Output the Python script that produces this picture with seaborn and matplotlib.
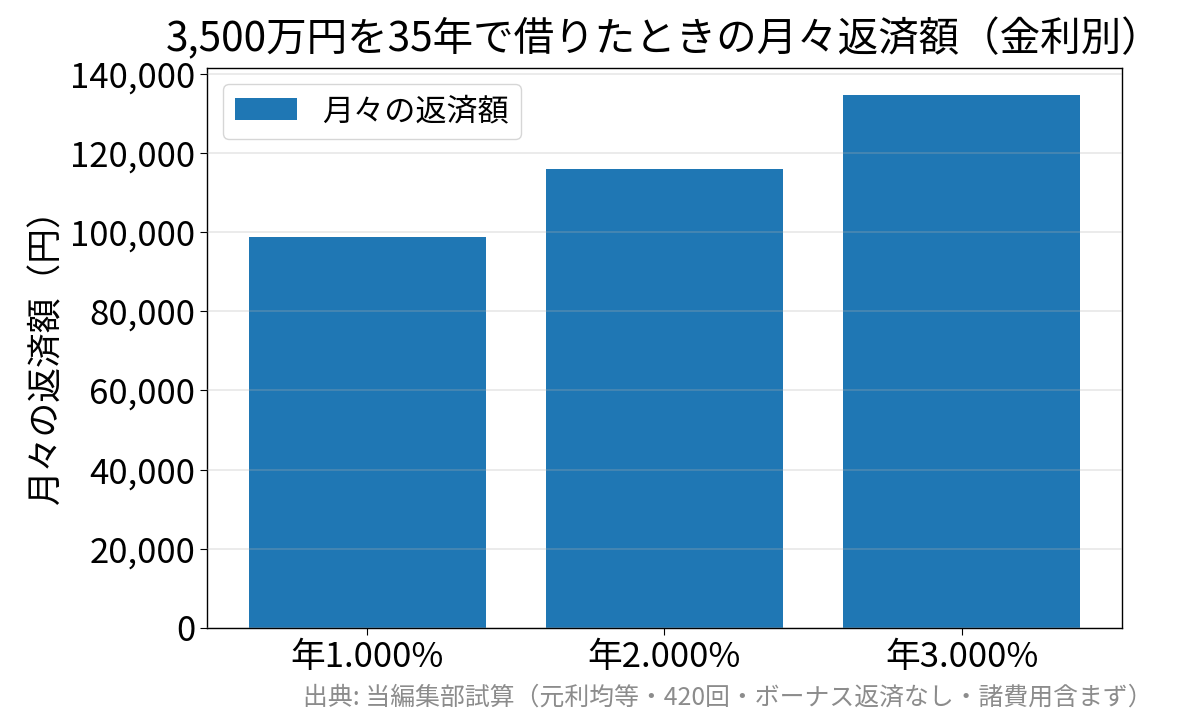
import matplotlib
matplotlib.use("Agg")
import matplotlib.pyplot as plt
import matplotlib.ticker as mticker
import seaborn as sns
import pandas as pd

categories = ["年1.000%", "年2.000%", "年3.000%"]
monthly_payment = [98800, 115944, 134697]
series_label = "月々の返済額"
title = "3,500万円を35年で借りたときの月々返済額（金利別）"
ylabel = "月々の返済額（円）"
source_note = "出典: 当編集部試算（元利均等・420回・ボーナス返済なし・諸費用含まず）"

plt.rcParams['font.family'] = ['Noto Sans CJK JP', 'DejaVu Sans']

df = pd.DataFrame({"rate": categories, "payment": monthly_payment})

fig = plt.figure(figsize=(11.83, 7.25), dpi=100)
ax = fig.add_axes([0.175, 0.1338, 0.7734, 0.7724])

sns.barplot(data=df, x="rate", y="payment", color="#1f77b4", saturation=1,
            width=0.8, label=series_label, ax=ax, zorder=1)

n = len(categories)
ax.set_xlim(-0.54, n - 1 + 0.54)
ax.margins(y=0.05)
ax.autoscale(axis="y")

ax.set_axisbelow(False)
ax.yaxis.grid(True, color="#b0b0b0", alpha=0.3, linewidth=1.2, zorder=2)
ax.xaxis.grid(False)

ax.yaxis.set_major_formatter(mticker.FuncFormatter(lambda v, p: f"{int(v):,}"))
ax.tick_params(axis="both", labelsize=25, length=5)
ax.set_xlabel("")
ax.set_ylabel(ylabel, fontsize=25)
ax.set_title(title, fontsize=29.2, pad=12)

for s in ax.spines.values():
    s.set_visible(True)
    s.set_color("black")
    s.set_linewidth(1)

ax.legend(loc="upper left", fontsize=22.4)

fig.text(0.974, 0.038, source_note, ha="right", va="center", fontsize=17.9, color="#8c8c8c")

fig.savefig("out.png", dpi=100)
